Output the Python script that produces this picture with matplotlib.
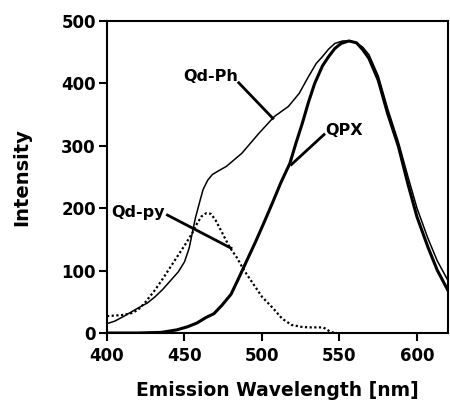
import matplotlib
matplotlib.use('Agg')
import matplotlib.pyplot as plt

# --- data ---
qpx_wl = [400, 420, 435, 445, 452, 458, 464, 469, 474, 480, 485, 490, 496, 502, 507,
          512, 518, 522, 526, 530, 534, 539, 543, 547, 551, 556, 561, 565, 569, 575,
          581, 588, 594, 600, 607, 613, 620]
qpx_int = [0, 0, 1, 5, 10, 16, 25, 31, 44, 62, 88, 115, 147, 181, 210,
           240, 272, 305, 336, 370, 400, 428, 443, 456, 464, 468, 465, 454, 440, 405,
           352, 299, 240, 186, 138, 101, 68]

ph_wl = [400, 405, 411, 420, 426, 431, 436, 441, 446, 450, 453, 455, 457, 460, 462,
         465, 468, 472, 477, 487, 498, 508, 517, 524, 530, 535, 539, 543, 547, 552,
         557, 561, 565, 569, 575, 581, 588, 594, 600, 607, 613, 620]
ph_int = [15, 19, 27, 40, 48, 58, 70, 84, 98, 114, 136, 160, 184, 212, 230,
          245, 254, 260, 267, 288, 320, 347, 363, 384, 411, 432, 443, 455, 464, 468,
          468, 465, 458, 446, 412, 360, 306, 252, 200, 152, 116, 84]

py_wl = [400, 405, 411, 416, 420, 425, 431, 436, 441, 446, 450, 455, 458, 461, 464,
         467, 470, 474, 479, 484, 488, 494, 500, 507, 513, 519, 525, 530, 539, 541,
         544, 547]
py_int = [27, 28, 29, 32, 37, 50, 69, 87, 106, 125, 140, 160, 175, 187, 192,
          191, 181, 162, 138, 120, 102, 80, 58, 40, 23, 13, 10, 9, 9, 7,
          2, 0]

# labels: text, text pos, line start, line end (data coords)
labels = [
    ("Qd-Ph", (449, 411), (485, 401), (507, 344)),
    ("QPX", (541, 325), (540, 318), (519, 270)),
    ("Qd-py", (403, 193), (439, 189), (480, 136)),
]

fig = plt.figure(figsize=(4.5, 4.03), dpi=100)
ax = fig.add_axes([107/450, 70/403, 341/450, 312/403])

ax.plot(qpx_wl, qpx_int, color='black', lw=2.2, solid_capstyle='round')
ax.plot(ph_wl, ph_int, color='black', lw=1.1)
ax.plot(py_wl, py_int, color='black', lw=1.6, linestyle=(0, (1, 1.1)))

for txt, tpos, p0, p1 in labels:
    ax.text(tpos[0], tpos[1], txt, fontsize=11.5, fontweight='bold',
            ha='left', va='center')
    ax.plot([p0[0], p1[0]], [p0[1], p1[1]], color='black', lw=2.0)

ax.set_xlim(400, 620)
ax.set_ylim(0, 500)
ax.set_xticks([400, 450, 500, 550, 600])
ax.set_yticks([0, 100, 200, 300, 400, 500])
ax.tick_params(direction='out', length=6, width=1.5, labelsize=12)
ax.tick_params(axis='x', pad=4)
ax.tick_params(axis='y', pad=2)
for lbl in ax.get_xticklabels() + ax.get_yticklabels():
    lbl.set_fontweight('bold')
for s in ax.spines.values():
    s.set_linewidth(1.5)

ax.set_xlabel("Emission Wavelength [nm]", fontsize=13.5, fontweight='bold')
ax.set_ylabel("Intensity", fontsize=14, fontweight='bold')
ax.xaxis.set_label_coords(0.5, -58/312)
ax.xaxis.label.set_va('center')
ax.yaxis.set_label_coords(-85/341, 0.5)
ax.yaxis.label.set_va('center')

fig.savefig('out.png', dpi=100)
